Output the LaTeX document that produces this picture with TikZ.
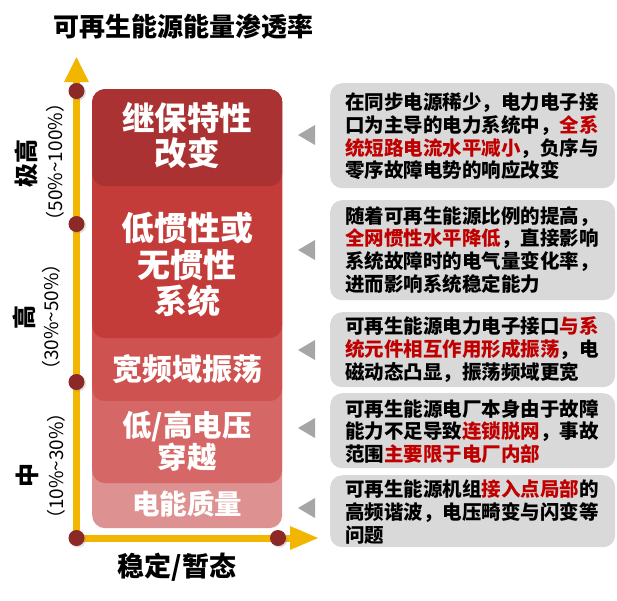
\documentclass[tikz,border=0pt]{standalone}
\usepackage{fontspec}
\setmainfont{Noto Sans CJK SC}
\usetikzlibrary{shadows}
\definecolor{axisor}{RGB}{242,182,0}
\definecolor{dotred}{RGB}{140,40,40}
\definecolor{bA}{RGB}{170,50,50}
\definecolor{bB}{RGB}{196,60,58}
\definecolor{bC}{RGB}{205,82,80}
\definecolor{bD}{RGB}{213,104,102}
\definecolor{bE}{RGB}{222,145,145}
\definecolor{gbox}{RGB}{217,217,217}
\definecolor{gtri}{RGB}{166,166,166}
\definecolor{hl}{RGB}{192,0,0}
\tikzset{
  rbox/.style={rectangle, rounded corners=13pt, minimum width=190pt, anchor=north west, inner sep=0pt},
  rtext/.style={text=white, font=\bfseries, align=center, inner sep=0pt},
  gboxs/.style={rectangle, rounded corners=12pt, fill=gbox, minimum width=285pt, anchor=north west, inner sep=0pt},
  gtext/.style={font=\fontsize{19.5}{22.8}\selectfont\bfseries, align=left, anchor=west, inner sep=0pt},
  axisline/.style={draw=axisor, line width=7pt},
  dotn/.style={circle, fill=dotred, minimum size=16pt, inner sep=0pt,
    drop shadow={shadow xshift=1.5pt, shadow yshift=-1.5pt, opacity=0.25}},
  tri/.style={fill=gtri},
  axlab/.style={font=\fontsize{24}{26}\selectfont\bfseries, rotate=90, inner sep=0pt},
  pclab/.style={font=\fontsize{19}{21}\selectfont, rotate=90, inner sep=0pt}
}
\begin{document}
\begin{tikzpicture}[x=1pt,y=-1pt]
\useasboundingbox (0,0) rectangle (617,600);
% title
\node[font=\fontsize{26}{28}\selectfont\bfseries, inner sep=0pt] (title) at (183,27) {可再生能源能量渗透率};
% red stacked boxes
\node[rbox, fill=bE, minimum height=439pt] (boxE) at (92,89) {};
\node[rbox, fill=bD, minimum height=394pt] (boxD) at (92,89) {};
\node[rbox, fill=bC, minimum height=312pt] (boxC) at (92,89) {};
\node[rbox, fill=bB, minimum height=249pt] (boxB) at (92,89) {};
\node[rbox, fill=bA, minimum height=97pt] (boxA) at (92,89) {};
\node[rtext, font=\fontsize{32.5}{35}\selectfont\bfseries] (tA) at (187,136) {继保特性\\改变};
\node[rtext, font=\fontsize{33}{36.5}\selectfont\bfseries] (tB) at (187,265) {低惯性或\\无惯性\\系统};
\node[rtext, font=\fontsize{30}{32}\selectfont\bfseries] (tC) at (187,369) {宽频域振荡};
\node[rtext, font=\fontsize{29.5}{32}\selectfont\bfseries] (tD) at (187,441) {低/高电压\\穿越};
\node[rtext, font=\fontsize{27.5}{30}\selectfont\bfseries] (tE) at (187,504) {电能质量};
% axes
\coordinate (p0) at (76.5,538);
\coordinate (ytop) at (76.5,82);
\coordinate (xend) at (290,538);
\draw[axisline] (p0) -- (ytop);
\draw[axisline] (p0) -- (xend);
\fill[axisor] (64,82) -- (89,82) -- (76.5,57) -- cycle;
\fill[axisor] (290,526) -- (290,550) -- (318,538) -- cycle;
\node[dotn] (d0) at (p0) {};
\node[dotn] (d1) at (76.5,382) {};
\node[dotn] (d2) at (76.5,224) {};
\node[dotn] (d3) at (76.5,91) {};
\node[dotn] (dx) at (278,538) {};
% axis labels
\node[axlab] (lA) at (26,163) {极高};
\node[pclab] (pA) at (55,162) {（50\%\textasciitilde100\%）};
\node[axlab] (lB) at (24,317) {高};
\node[pclab] (pB) at (51,317) {（30\%\textasciitilde50\%）};
\node[axlab] (lC) at (27,475) {中};
\node[pclab] (pC) at (56,466) {（10\%\textasciitilde30\%）};
\node[font=\fontsize{27}{29}\selectfont\bfseries, inner sep=0pt] (xlab) at (177,567) {稳定/暂态};
% gray boxes
\node[gboxs, minimum height=105pt] (g1) at (330,83) {};
\node[gboxs, minimum height=100pt] (g2) at (330,200) {};
\node[gboxs, minimum height=75pt] (g3) at (330,312) {};
\node[gboxs, minimum height=75pt] (g4) at (330,393) {};
\node[gboxs, minimum height=72pt] (g5) at (330,475) {};
\node[gtext] (x1) at (345,136.5) {在同步电源稀少，电力电子接\\口为主导的电力系统中，\textcolor{hl}{全系}\\\textcolor{hl}{统短路电流水平减小}，负序与\\零序故障电势的响应改变};
\node[gtext] (x2) at (345,250) {随着可再生能源比例的提高，\\\textcolor{hl}{全网惯性水平降低}，直接影响\\系统故障时的电气量变化率，\\进而影响系统稳定能力};
\node[gtext] (x3) at (345,349.5) {可再生能源电力电子接口\textcolor{hl}{与系}\\\textcolor{hl}{统元件相互作用形成振荡}，电\\磁动态凸显，振荡频域更宽};
\node[gtext] (x4) at (345,431.5) {可再生能源电厂本身由于故障\\能力不足导致\textcolor{hl}{连锁脱网}，事故\\范围\textcolor{hl}{主要限于电厂内部}};
\node[gtext] (x5) at (345,512) {可再生能源机组\textcolor{hl}{接入点局部}的\\高频谐波，电压畸变与闪变等\\问题};
% triangles
\fill[tri] (315,125) -- (315,145) -- (298,135) -- cycle;
\fill[tri] (315,240) -- (315,260) -- (298,250) -- cycle;
\fill[tri] (315,340) -- (315,360) -- (298,350) -- cycle;
\fill[tri] (315,418) -- (315,438) -- (298,428) -- cycle;
\fill[tri] (315,498) -- (315,518) -- (298,508) -- cycle;
\end{tikzpicture}
\end{document}
